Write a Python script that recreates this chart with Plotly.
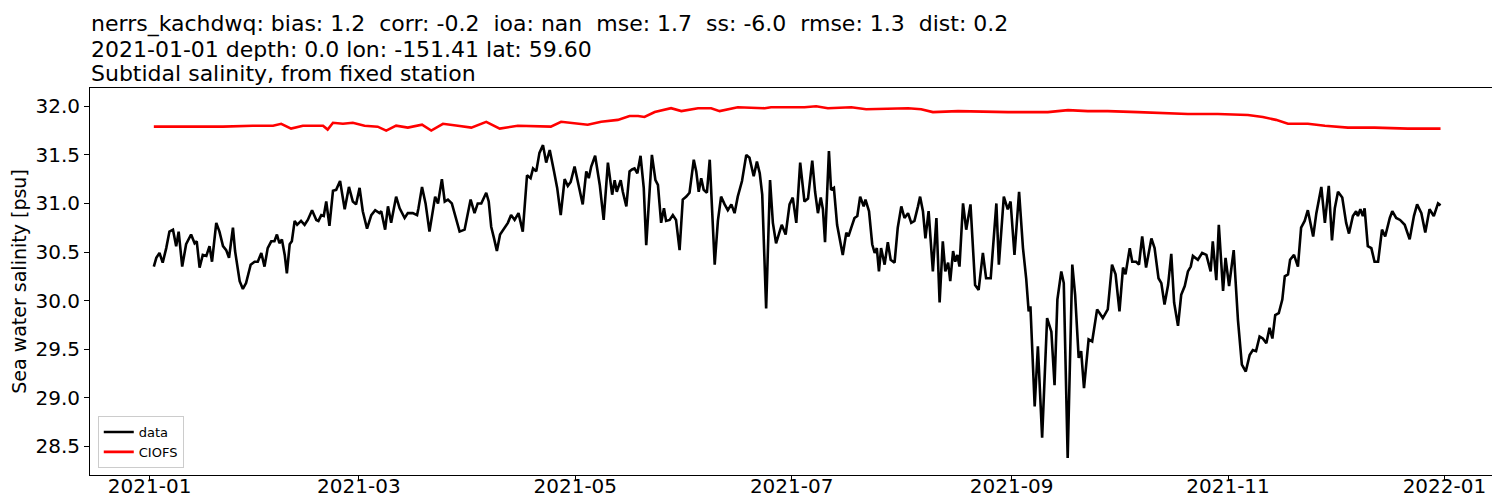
import plotly.graph_objects as go
import pandas as pd

# variables
size_plot = [1500, 500]  # [width, height]
plot_box = [82, 1496, 80, 467]  # [left, right, top, bottom] in px
start_date = pd.Timestamp('2021-01-01')
font_family = 'DejaVu Sans'
size_title = 22
size_label = 19
size_tick = 20
size_legend = 13
line_width = 2.6

title_lines = [
    'nerrs_kachdwq: bias: 1.2  corr: -0.2  ioa: nan  mse: 1.7  ss: -6.0  rmse: 1.3  dist: 0.2',
    '2021-01-01 depth: 0.0 lon: -151.41 lat: 59.60',
    'Subtidal salinity, from fixed station',
]
title_center_px = [16, 41, 65.5]  # vertical centre of each title line
y_label = 'Sea water salinity [psu]'

# observed salinity (days since 2021-01-01, psu)
obs_day = [
    1.2, 1.9, 2.8, 3.7, 4.7, 5.6, 6.6, 7.5, 8.2, 9.2, 10.3, 11.7, 12.7, 13.3, 14.1, 15.0, 16.0, 16.9, 17.6,
    18.8, 19.7, 20.7, 21.6, 22.4, 23.5, 24.1, 25.4, 26.3, 27.2, 28.5, 29.6, 30.5, 31.5, 32.4, 33.3, 34.3,
    35.2, 35.9, 36.6, 37.3, 38.1, 38.7, 39.5, 40.1, 40.9, 41.6, 42.7, 43.7, 44.6, 45.8, 47.0, 47.6, 48.4,
    49.1, 49.8, 50.7, 51.7, 52.6, 53.7, 55.0, 56.2, 57.3, 58.2, 59.2, 60.1, 61.3, 62.5, 63.6, 64.8, 65.3,
    66.4, 67.2, 68.1, 69.5, 70.5, 70.9, 71.9, 72.8, 74.2, 75.4, 75.8, 76.8, 77.8, 78.9, 79.9, 80.5, 81.3,
    82.4, 83.2, 84.1, 85.2, 86.1, 87.4, 88.8, 89.7, 90.5, 91.6, 92.5, 93.5, 94.9, 95.6, 96.3, 97.1, 97.9,
    98.8, 100.1, 101.0, 101.9, 102.9, 104.0, 105.2, 106.4, 107.4, 108.1, 109.0, 109.9, 110.9, 111.8,
    112.8, 114.0, 114.9, 115.9, 117.0, 117.9, 118.7, 119.8, 120.9, 122.1, 123.1, 123.8, 124.5, 125.6,
    126.9, 128.0, 129.2, 130.4, 131.1, 131.7, 132.8, 133.4, 134.4, 135.3, 136.0, 136.7, 137.5, 138.4,
    139.3, 140.0, 141.0, 141.6, 142.6, 143.3, 144.2, 145.0, 145.6, 146.6, 147.5, 148.4, 149.4, 150.3,
    151.3, 152.2, 153.4, 154.1, 154.8, 155.5, 156.2, 157.1, 157.9, 159.3, 160.2, 161.1, 162.1, 163.0,
    164.0, 164.9, 165.8, 167.0, 168.2, 169.1, 170.3, 171.2, 172.0, 172.7, 173.8, 174.9, 175.7, 176.6,
    177.6, 178.2, 179.3, 180.4, 181.3, 182.3, 183.4, 184.6, 185.6, 186.8, 187.6, 188.4, 189.2, 189.8,
    190.4, 191.5, 192.1, 192.9, 193.8, 194.5, 195.4, 196.4, 197.0, 197.8, 198.7, 199.5, 200.3, 201.3,
    201.8, 202.8, 203.7, 204.4, 205.0, 205.6, 206.2, 207.2, 208.1, 208.9, 210.0, 210.9, 211.9, 212.8,
    213.8, 214.7, 215.6, 216.6, 217.2, 218.0, 218.7, 219.6, 220.8, 221.8, 222.7, 223.6, 224.3, 225.1,
    225.7, 226.5, 227.1, 227.7, 228.3, 229.3, 230.2, 231.4, 232.7, 233.7, 234.9, 235.8, 237.1, 238.7,
    239.4, 240.8, 241.9, 242.7, 243.8, 245.1, 246.2, 247.1, 247.8, 248.3, 249.5, 250.4, 251.6, 253.0,
    254.2, 255.1, 255.9, 257.0, 257.7, 258.8, 260.1, 260.9, 261.9, 262.6, 263.4, 264.7, 265.7, 267.1,
    268.7, 270.1, 271.3, 272.3, 273.4, 274.4, 275.1, 276.3, 277.0, 278.1, 278.9, 279.8, 280.9, 282.4,
    283.3, 284.4, 285.2, 286.1, 287.1, 288.0, 288.8, 289.9, 290.8, 291.8, 292.7, 293.5, 294.1, 295.5,
    296.7, 297.9, 299.1, 299.7, 300.7, 301.4, 302.6, 303.3, 304.3, 305.6, 306.8, 307.9, 309.0, 310.1,
    311.0, 311.9, 312.9, 313.8, 314.8, 315.7, 316.5, 317.3, 318.3, 319.3, 320.0, 320.9, 321.5, 322.6,
    323.7, 324.6, 325.6, 326.5, 328.0, 328.9, 330.3, 331.3, 332.4, 333.3, 334.1, 335.0, 336.2, 337.3,
    338.1, 339.2, 340.1, 340.6, 341.3, 342.0, 342.5, 343.4, 344.4, 345.3, 346.3, 347.4, 348.3, 349.6,
    350.3, 351.4, 352.5, 353.8, 355.2, 356.4, 357.3, 358.5, 359.6, 360.8, 362.0, 363.2, 363.9,
]
obs_sal = [
    30.35, 30.44, 30.49, 30.39, 30.54, 30.71, 30.73, 30.56, 30.71, 30.35, 30.58, 30.68, 30.59, 30.61, 30.34,
    30.47, 30.46, 30.56, 30.40, 30.80, 30.71, 30.56, 30.52, 30.44, 30.75, 30.51, 30.20, 30.12, 30.18, 30.37,
    30.40, 30.40, 30.49, 30.35, 30.54, 30.61, 30.61, 30.68, 30.59, 30.63, 30.47, 30.28, 30.58, 30.61, 30.82,
    30.78, 30.82, 30.78, 30.83, 30.93, 30.83, 30.82, 30.88, 30.87, 31.02, 30.77, 31.13, 31.14, 31.23, 30.94,
    31.17, 31.02, 30.99, 31.16, 30.92, 30.74, 30.88, 30.93, 30.90, 30.92, 30.73, 30.97, 30.80, 31.07, 30.95,
    30.92, 30.85, 30.90, 30.90, 30.88, 30.95, 31.17, 31.00, 30.71, 30.95, 31.07, 31.00, 31.25, 31.02, 31.04,
    31.00, 30.88, 30.71, 30.73, 30.90, 31.04, 30.90, 31.00, 31.00, 31.11, 31.02, 30.76, 30.64, 30.51, 30.68,
    30.75, 30.80, 30.88, 30.83, 30.90, 30.71, 31.29, 31.26, 31.36, 31.33, 31.52, 31.60, 31.42, 31.55, 31.33,
    31.16, 30.88, 31.25, 31.18, 31.22, 31.38, 31.19, 30.99, 31.33, 31.26, 31.38, 31.49, 31.19, 30.83, 31.42,
    31.09, 31.24, 31.12, 31.24, 31.12, 30.97, 31.33, 31.35, 31.36, 31.31, 31.49, 31.16, 30.57, 31.16, 31.50,
    31.24, 31.19, 30.80, 30.95, 30.82, 30.83, 30.88, 30.83, 30.52, 31.04, 31.07, 31.11, 31.45, 31.33, 31.12,
    31.26, 31.14, 31.11, 31.45, 30.37, 30.82, 31.07, 30.99, 30.93, 30.99, 30.90, 31.07, 31.23, 31.50, 31.47,
    31.28, 31.43, 31.31, 31.09, 29.92, 31.24, 30.80, 30.59, 30.71, 30.78, 30.68, 30.99, 31.06, 30.80, 31.42,
    31.02, 31.05, 31.44, 31.12, 30.90, 31.06, 30.94, 30.60, 31.54, 31.14, 31.16, 30.78, 30.66, 30.47, 30.70,
    30.66, 30.75, 30.85, 30.87, 31.07, 30.97, 31.04, 30.92, 30.58, 30.49, 30.54, 30.30, 30.54, 30.37, 30.60,
    30.42, 30.39, 30.75, 30.97, 30.85, 30.90, 30.80, 30.82, 30.97, 31.07, 30.92, 30.64, 30.92, 30.30, 30.85,
    29.98, 30.61, 30.30, 30.39, 30.20, 30.51, 30.40, 30.47, 30.35, 31.00, 30.73, 30.99, 30.16, 30.11, 30.49,
    30.23, 30.23, 31.00, 30.37, 31.07, 30.94, 31.02, 30.47, 31.12, 30.54, 30.23, 29.89, 29.94, 28.91, 29.53,
    28.59, 29.82, 29.68, 29.13, 30.01, 30.30, 30.18, 28.38, 30.37, 30.06, 29.41, 29.48, 29.10, 29.60, 29.58,
    29.91, 29.82, 29.91, 30.37, 30.27, 29.89, 30.34, 30.27, 30.54, 30.40, 30.40, 30.37, 30.66, 30.34, 30.64,
    30.54, 30.23, 30.18, 29.96, 30.16, 30.48, 29.98, 29.74, 30.06, 30.15, 30.30, 30.35, 30.46, 30.42, 30.49,
    30.47, 30.30, 30.61, 30.21, 30.78, 30.10, 30.44, 30.15, 30.52, 29.80, 29.34, 29.27, 29.44, 29.49, 29.48,
    29.63, 29.61, 29.56, 29.72, 29.61, 29.85, 29.87, 30.01, 30.25, 30.27, 30.42, 30.47, 30.35, 30.75, 30.82,
    30.93, 30.66, 30.90, 31.17, 30.80, 31.18, 30.62, 30.95, 31.12, 31.06, 30.80, 30.69, 30.87, 30.92, 30.87,
    30.94, 30.87, 30.95, 30.56, 30.54, 30.40, 30.40, 30.73, 30.66, 30.85, 30.92, 30.85, 30.83, 30.78, 30.63,
    30.87, 30.99, 30.90, 30.70, 30.94, 30.87, 31.00, 30.98,
]

# CIOFS model salinity (days since 2021-01-01, psu)
model_day = [
    1.2, 10.8, 20.7, 29.1, 34.8, 37.1, 39.0, 39.9, 43.2, 48.9, 50.2, 51.7, 54.5, 57.3, 60.6, 64.3, 66.7,
    69.5, 72.8, 76.8, 79.4, 82.7, 86.9, 90.7, 94.9, 98.7, 103.8, 113.1, 116.0, 123.5, 127.3, 132.0, 135.3,
    137.7, 139.5, 142.4, 147.0, 149.9, 154.6, 158.3, 160.7, 165.8, 173.4, 175.2, 184.6, 187.9, 191.2, 197.8,
    202.0, 213.8, 217.5, 220.8, 227.9, 236.3, 242.0, 253.2, 258.9, 264.5, 270.1, 278.6, 287.0, 292.7, 301.1,
    309.6, 313.8, 317.5, 320.9, 326.5, 331.3, 337.8, 345.3, 354.7, 363.9,
]
model_sal = [
    31.79, 31.79, 31.79, 31.80, 31.80, 31.82, 31.79, 31.77, 31.80, 31.80, 31.76, 31.83, 31.82, 31.83, 31.80,
    31.79, 31.75, 31.80, 31.78, 31.81, 31.75, 31.82, 31.80, 31.78, 31.84, 31.77, 31.80, 31.79, 31.84, 31.81,
    31.84, 31.86, 31.90, 31.90, 31.89, 31.94, 31.98, 31.95, 31.98, 31.98, 31.95, 31.99, 31.98, 31.99, 31.99,
    32.00, 31.98, 31.99, 31.97, 31.98, 31.97, 31.94, 31.95, 31.94, 31.94, 31.94, 31.96, 31.95, 31.95, 31.94,
    31.93, 31.92, 31.92, 31.91, 31.89, 31.86, 31.82, 31.82, 31.80, 31.78, 31.78, 31.77, 31.77,
]

obs_time = start_date + pd.to_timedelta(obs_day, unit='D')
model_time = start_date + pd.to_timedelta(model_day, unit='D')

tick_vals = pd.date_range('2021-01-01', '2022-01-01', freq='2MS')
x_range = [pd.Timestamp('2020-12-15 05:00'), pd.Timestamp('2022-01-17 19:00')]
y_range = [28.205, 32.188]

fig = go.Figure()
fig.add_trace(go.Scatter(x=obs_time, y=obs_sal, mode='lines', name='data',
                         line=dict(color='black', width=line_width)))
fig.add_trace(go.Scatter(x=model_time, y=model_sal, mode='lines', name='CIOFS',
                         line=dict(color='red', width=line_width)))

# title lines as annotations (left aligned with the axes)
plot_h = plot_box[3] - plot_box[2]
for text, ypx in zip(title_lines, title_center_px):
    fig.add_annotation(text=text, xref='paper', yref='paper', x=0, y=(plot_box[3] - ypx) / plot_h,
                       xanchor='left', yanchor='middle', showarrow=False,
                       font=dict(size=size_title, color='black'), borderpad=0)

fig.update_layout(
    width=size_plot[0],
    height=size_plot[1],
    margin=dict(l=plot_box[0], r=size_plot[0] - plot_box[1], t=plot_box[2], b=size_plot[1] - plot_box[3]),
    paper_bgcolor='white',
    plot_bgcolor='white',
    font=dict(family=font_family, color='black', size=size_tick),
    legend=dict(x=0.0055, y=0.018, xanchor='left', yanchor='bottom',
                bgcolor='rgba(255,255,255,0.8)', bordercolor='#cccccc', borderwidth=1,
                font=dict(size=size_legend), tracegroupgap=0),
    showlegend=True,
)

# axis: major ticks hidden so labels sit close, minor ticks draw the tick marks
fig.update_xaxes(range=x_range, tickvals=tick_vals, tickformat='%Y-%m', ticks='', ticklabelstandoff=-7,
                 minor=dict(tickvals=tick_vals, ticks='outside', ticklen=5, tickcolor='black', showgrid=False),
                 showline=True, linecolor='black', linewidth=1, mirror=True,
                 showgrid=False, zeroline=False, tickfont_size=size_tick)
fig.update_yaxes(range=y_range, dtick=0.5, tickformat='.1f', ticks='outside', ticklen=5,
                 tickcolor='black', showline=True, linecolor='black', linewidth=1, mirror=True,
                 showgrid=False, zeroline=False, tickfont_size=size_tick,
                 title=dict(text=y_label, font=dict(size=size_label), standoff=6))

fig.write_html('out.html')
